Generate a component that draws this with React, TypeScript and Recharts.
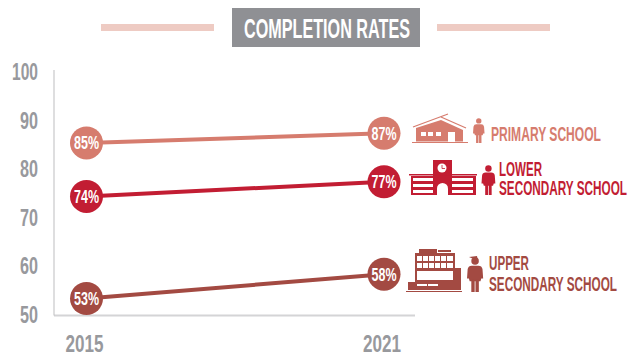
import { LineChart, Line, XAxis, YAxis } from 'recharts';

const years = ['2015', '2021'];
const primary = [85, 87];
const lowerSecondary = [74, 77];
const upperSecondary = [53, 58];
const yTicks = [50, 60, 70, 80, 90, 100];

const PRIMARY_COLOR = '#d67c6e';
const LOWER_COLOR = '#c21d33';
const UPPER_COLOR = '#a34a42';
const GREY = '#98999d';
const FONT = '"Liberation Sans Narrow", "Liberation Sans", sans-serif';

const chartData = years.map((year, i) => ({
    year,
    primary: primary[i],
    lower: lowerSecondary[i],
    upper: upperSecondary[i]
}));

function Dot(props: any) {
    const { cx, cy, value, color } = props;
    return (
        <g>
            <circle cx={cx} cy={cy} r={16.5} fill={color} />
            <text
                x={cx}
                y={cy + 6.5}
                textAnchor="middle"
                fill="#fff"
                fontFamily={FONT}
                fontWeight="bold"
                fontSize={18}
                textLength={25}
                lengthAdjust="spacingAndGlyphs"
            >
                {value}%
            </text>
        </g>
    );
}

function YTick(props: any) {
    const { y, payload } = props;
    const wide = payload.value === 100;
    return (
        <text
            x={38}
            y={y + 10}
            textAnchor="end"
            fill={GREY}
            fontFamily={FONT}
            fontWeight="bold"
            fontSize={24}
            textLength={wide ? 26 : 18}
            lengthAdjust="spacingAndGlyphs"
        >
            {payload.value}
        </text>
    );
}

function XTick(props: any) {
    const { x, payload } = props;
    return (
        <text
            x={x - 2}
            y={352}
            textAnchor="middle"
            fill={GREY}
            fontFamily={FONT}
            fontWeight="bold"
            fontSize={24}
            textLength={38}
            lengthAdjust="spacingAndGlyphs"
        >
            {payload.value}
        </text>
    );
}

function Person({ x, y, h, color }: { x: number; y: number; h: number; color: string }) {
    const s = h / 26;
    return (
        <g transform={`translate(${x} ${y}) scale(${s})`} fill={color}>
            <circle cx={6} cy={3} r={2.8} />
            <path d="M3.5 6.5 H8.5 Q11 6.5 11.5 9 L12 16 H10.6 L10 18 H2 L1.4 16 H0 L0.5 9 Q1 6.5 3.5 6.5 Z" />
            <rect x={3.2} y={17} width={2.5} height={9} />
            <rect x={6.3} y={17} width={2.5} height={9} />
        </g>
    );
}

function Label({ x, y, w, color, children }: any) {
    return (
        <text
            x={x}
            y={y}
            fill={color}
            fontFamily={FONT}
            fontWeight="bold"
            fontSize={20}
            textLength={w}
            lengthAdjust="spacingAndGlyphs"
        >
            {children}
        </text>
    );
}

function Overlay() {
    return (
        <svg width={628} height={354} style={{ position: 'absolute', left: 0, top: 0 }}>
            {/* title */}
            <rect x={101} y={24} width={113} height={7} fill="#eecbc3" />
            <rect x={437} y={24} width={113} height={7} fill="#eecbc3" />
            <rect x={232} y={8} width={188} height={39} fill="#8f9094" />
            <text
                x={244}
                y={38}
                fill="#fff"
                fontFamily={FONT}
                fontWeight="bold"
                fontSize={27}
                textLength={166}
                lengthAdjust="spacingAndGlyphs"
            >
                COMPLETION RATES
            </text>

            {/* primary school */}
            <g fill={PRIMARY_COLOR}>
                <line x1={413} y1={127} x2={448} y2={114} stroke={PRIMARY_COLOR} strokeWidth={1.2} />
                <line x1={441} y1={117} x2={466} y2={128} stroke={PRIMARY_COLOR} strokeWidth={1.2} />
                <polygon points="416,128 441,120 463,130 463,141.5 416,141.5" />
                <rect x={412} y={142} width={56} height={1} />
                <g fill="#fff">
                    <rect x={421} y={132} width={5} height={4} />
                    <rect x={428} y={132} width={5} height={4} />
                    <rect x={436} y={132} width={5} height={4} />
                    <rect x={448} y={132} width={7} height={10} />
                </g>
            </g>
            <Person x={473} y={118} h={25} color={PRIMARY_COLOR} />
            <Label x={491} y={141} w={110} color={PRIMARY_COLOR}>PRIMARY SCHOOL</Label>

            {/* lower secondary */}
            <g fill={LOWER_COLOR}>
                <rect x={433} y={160} width={19} height={35} />
                <rect x={411} y={176} width={65} height={19} />
                <rect x={409} y={174} width={68} height={1.5} />
                <g fill="#fff">
                    <circle cx={442} cy={168} r={4.5} />
                    <rect x={413} y={178} width={20} height={3} />
                    <rect x={413} y={184} width={20} height={3} />
                    <rect x={413} y={190} width={20} height={3} />
                    <rect x={452} y={178} width={21} height={3} />
                    <rect x={452} y={184} width={21} height={3} />
                    <rect x={452} y={190} width={21} height={3} />
                    <path d="M437 195 V188.5 a5.5 5.5 0 0 1 11 0 V195 Z" />
                </g>
                <path d="M442 165 V168.5 H445" fill="none" stroke={LOWER_COLOR} strokeWidth={0.8} />
            </g>
            <Person x={481.5} y={165} h={30} color={LOWER_COLOR} />
            <Label x={499} y={176} w={43} color={LOWER_COLOR}>LOWER</Label>
            <Label x={499} y={195} w={128} color={LOWER_COLOR}>SECONDARY SCHOOL</Label>

            {/* upper secondary */}
            <g fill={UPPER_COLOR}>
                <rect x={419} y={249} width={18} height={4} />
                <rect x={438} y={250} width={13} height={2} />
                <rect x={415} y={253} width={40} height={37} />
                <rect x={455} y={268} width={6} height={22} />
                <rect x={408} y={282} width={8} height={8} />
                <rect x={406} y={291} width={56} height={1} />
                <g fill="#fff">
                    <rect x={417} y={256} width={36} height={5} />
                    <rect x={417} y={263} width={36} height={5} />
                    <rect x={417} y={271} width={36} height={9} />
                    <rect x={417} y={284} width={10} height={2} />
                    <rect x={428} y={284} width={10} height={2} />
                </g>
                <g>
                    <rect x={422} y={256} width={1} height={12} />
                    <rect x={428} y={256} width={1} height={12} />
                    <rect x={434} y={256} width={1} height={12} />
                    <rect x={440} y={256} width={1} height={12} />
                    <rect x={446} y={256} width={1} height={12} />
                </g>
            </g>
            <path d="M469 257 L477 256 L478 261 Z" fill={UPPER_COLOR} />
            <Person x={467} y={257} h={35} color={UPPER_COLOR} />
            <Label x={489} y={270} w={40} color={UPPER_COLOR}>UPPER</Label>
            <Label x={489} y={291} w={128} color={UPPER_COLOR}>SECONDARY SCHOOL</Label>
        </svg>
    );
}

export default function App() {
    return (
        <div style={{ position: 'absolute', left: 0, top: 0, width: 628, height: 354, background: '#fff' }}>
            <LineChart
                width={628}
                height={354}
                data={chartData}
                margin={{ top: 70, right: 213, bottom: 0, left: 0 }}
            >
                <XAxis
                    dataKey="year"
                    height={38.5}
                    padding={{ left: 32.5, right: 31 }}
                    axisLine={{ stroke: '#d4d4d6', strokeWidth: 2 }}
                    tickLine={false}
                    tick={<XTick />}
                    interval={0}
                />
                <YAxis
                    width={54}
                    domain={[49.5, 100]}
                    ticks={yTicks}
                    allowDataOverflow
                    axisLine={{ stroke: '#bdbdbf', strokeWidth: 1 }}
                    tickLine={false}
                    tick={<YTick />}
                />
                <Line dataKey="primary" stroke={PRIMARY_COLOR} strokeWidth={4} isAnimationActive={false} dot={<Dot color={PRIMARY_COLOR} />} />
                <Line dataKey="lower" stroke={LOWER_COLOR} strokeWidth={4} isAnimationActive={false} dot={<Dot color={LOWER_COLOR} />} />
                <Line dataKey="upper" stroke={UPPER_COLOR} strokeWidth={4} isAnimationActive={false} dot={<Dot color={UPPER_COLOR} />} />
            </LineChart>
            <Overlay />
        </div>
    );
}
